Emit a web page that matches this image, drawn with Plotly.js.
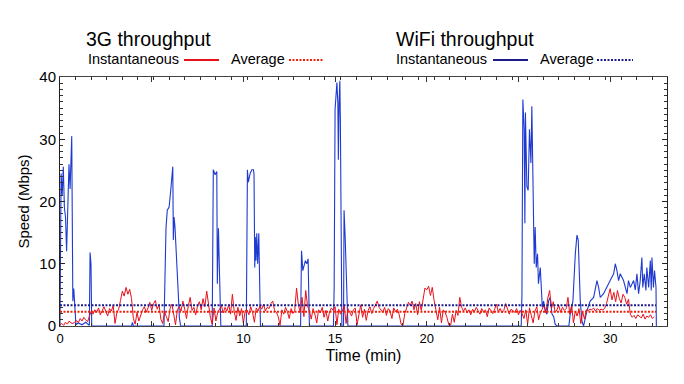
<!DOCTYPE html>
<html><head><meta charset="utf-8">
<script src="https://cdn.plot.ly/plotly-3.0.1.min.js"></script>
<style>body{margin:0;background:#fff}#chart{width:684px;height:384px}</style>
</head><body><div id="chart"></div>
<script>
// ---- data ----
const sampleStep3G = 0.1; // minutes between 3G samples
const g3Values = [
0.2,0.4,0.1,0.6,0.3,0.8,0.5,0.4,
0.6,0.9,0.5,1.2,0.8,1.4,1.0,0.7,
1.5,2.4,1.9,2.6,
2.2,2.9,1.8,2.5,3.1,2.3,1.6,2.8,2.4,3.3,
0.4,2.1,2.7,
4.1,5.6,4.8,6.2,5.1,5.9,4.4,
1.2,0.3,2.2,0.8,1.9,
2.6,3.1,2.2,2.9,3.8,2.5,3.6,4.1,2.7,3.4,
1.1,0.4,2.3,1.5,0.7,
2.8,3.5,1.9,0.2,2.6,
3.1,2.4,4.0,2.7,1.2,3.3,4.6,2.5,3.0,1.8,
3.2,3.9,2.6,4.4,3.1,5.6,3.6,
1.4,0.3,2.9,0.8,2.2,
2.7,3.3,2.1,3.0,2.4,3.4,1.9,5.1,
2.3,0.9,3.0,1.6,2.8,0.4,2.5,
2.6,1.8,3.1,2.2,0.6,2.9,2.4,
3.2,2.7,3.5,2.4,3.0,2.8,3.6,4.0,2.5,
2.2,1.5,0.1,2.6,1.9,3.0,2.3,1.2,2.8,2.0,2.5,
6.1,3.4,2.2,4.6,1.5,5.7,3.2,
2.4,1.1,2.8,1.9,0.5,2.6,2.1,3.0,1.4,2.5,0.8,2.3,2.9,
2.5,3.1,0.2,2.7,1.9,2.4,3.3,0.4,2.8,2.1,1.6,2.6,
2.9,0.2,2.2,3.4,1.4,2.7,0.9,2.5,3.1,2.0,2.8,
3.5,4.0,3.0,
2.6,2.2,3.0,1.7,2.8,2.4,1.2,2.9,2.3,2.7,1.8,0.3,0.1,2.0,
2.9,3.8,3.3,4.0,2.6,3.6,1.8,3.9,2.5,
4.5,6.1,5.8,6.4,4.9,6.2,4.1,
2.4,1.0,3.0,0.5,2.6,
2.2,1.4,0.2,0.1,1.9,0.6,2.5,1.7,
4.6,3.0,
2.4,2.9,2.1,2.6,1.8,2.7,2.3,3.0,2.5,1.9,2.8,2.2,2.6,1.5,2.9,2.4,2.0,2.7,3.5,2.3,2.8,2.1,2.5,3.6,2.6,1.9,2.7,2.4,
2.2,2.8,1.8,2.5,2.0,
1.2,2.6,0.3,2.9,1.7,0.5,2.4,3.1,1.0,2.2,2.7,
3.4,2.1,4.5,5.7,2.8,3.9,2.2,
2.6,3.3,2.2,3.0,2.5,2.8,
4.6,1.9,3.4,0.5,2.4,
1.6,2.8,0.4,2.3,1.1,2.6,
2.5,2.7,2.6,2.9,2.4,2.8,2.5,2.7,2.6,2.8,
3.6,4.8,6.0,4.2,5.4,3.9,5.7,4.4,3.7,5.1,4.6,3.5,4.3,
1.9,1.4,1.7,1.2,1.8,1.5,1.3,1.9,1.1,1.6,1.4,1.8,1.2,1.5
];
const wifiTimes = [
0.00,0.06,0.12,0.18,0.24,0.30,0.36,0.42,0.49,0.55,0.60,0.64,0.67,0.70,0.75,0.82,0.87,1.0,1.2,1.4,1.6,1.64,1.69,1.73,
3.9,3.95,4.0,
5.67,5.73,5.78,5.85,5.95,6.04,6.09,6.15,6.18,6.22,6.27,6.37,6.45,6.51,6.58,
8.30,8.36,8.46,8.55,8.58,8.64,8.69,8.73,8.77,
10.16,10.22,10.27,10.37,10.46,10.55,10.58,10.62,10.65,10.69,10.73,10.78,10.84,10.87,10.93,
13.12,13.17,13.24,13.31,13.38,13.46,13.53,13.57,13.60,
14.91,14.95,15.0,15.1,15.15,15.18,15.22,15.26,15.29,15.33,15.37,15.46,15.49,15.55,15.6,15.64,15.7,
25.15,25.19,25.24,25.31,25.35,25.38,25.46,25.53,25.6,25.68,25.73,25.79,25.82,25.86,25.91,25.97,26.04,26.09,26.19,26.24,26.3,26.37,26.46,26.55,26.64,26.73,26.83,26.92,27.0,27.1,
27.75,27.82,27.97,28.1,28.19,28.26,28.31,28.37,28.46,28.55,28.73,28.91,29.1,29.28,29.37,29.46,29.64,29.83,30.0,30.19,30.28,30.37,30.46,30.55,30.73,30.92,31.0,31.1,31.28,31.37,31.46,31.55,31.64,31.73,31.78,31.86,31.95,32.0,32.1,32.19,32.24,32.28,32.36,32.42,32.5,32.52
];
const wifiValues = [
0,24.5,21,25.6,19,17.5,12,19,26,22,26.7,30.5,17,4,6,2,0.2,0.5,0.2,0.6,0.1,11.8,10,0,
0,0.6,0,
0,13.3,15.7,18.6,19.1,21.8,23.2,25.6,13.8,17.5,15.9,11,5.2,1.3,0,
0,25.1,24.3,24.8,6.8,15.7,9.4,5.2,0,
0,25.1,23.1,24.5,25.1,25.1,24.4,9.4,14.3,10.5,14.9,10,14.9,8.9,0,
0,12.1,8.9,10,10.5,10,10.8,4.6,0,
0,6.2,34.8,39.1,35.9,26.7,35.9,39.4,32.6,14.3,0,0,18.6,14.3,8.9,4.6,0,
0,5,36.4,31.6,16.5,34.3,22.4,21.8,31.6,26.2,35.3,22.4,16.5,10,15.9,9.4,11.6,6.8,9.4,5.7,3,4,2.4,1.9,4,4.6,1.9,1.5,0.3,0,
0,1.9,4,11.6,14.6,13.8,8.4,4,0.8,0,2.4,4,4.6,7.3,6.2,4.6,5.2,6.2,7.3,8.4,10,8.9,7.3,8.4,7.3,5.2,7.3,6.2,7.3,5.8,8.4,5.2,7.3,11,6.2,8.4,5.7,9.4,6.2,10.5,5.7,11,6.2,8.9,6.2,0
];
const g3Average = 2.3;
const wifiAverage = 3.35;
const averageSpan = [0, 32.5];
const xTickVals = [0,5,10,15,20,25,30];
const yTickVals = [0,10,20,30,40];

const g3Times = g3Values.map((_, i) => +(i * sampleStep3G).toFixed(2));

const RED = '#e8101a', BLUE = '#1f3ad0', NAVY = '#1c1c8f', RED_AVG = '#f0200a';
const FONT = 'Liberation Sans, Arial, sans-serif';
const FINE_DOT = '2px,1.5px';

const traces = [
  {x: wifiTimes, y: wifiValues, type: 'scatter', mode: 'lines', line: {color: BLUE, width: 1.1}, hoverinfo: 'skip'},
  {x: g3Times, y: g3Values, type: 'scatter', mode: 'lines', line: {color: RED, width: 1}, hoverinfo: 'skip'},
  {x: averageSpan, y: [wifiAverage, wifiAverage], type: 'scatter', mode: 'lines', line: {color: NAVY, width: 2, dash: FINE_DOT}},
  {x: averageSpan, y: [g3Average, g3Average], type: 'scatter', mode: 'lines', line: {color: RED_AVG, width: 2, dash: FINE_DOT}}
];

function px2paper(px) { return (px - 60) / 607; }
function py2paper(py) { return (326 - py) / 249; }

const ann = (text, px, py, size) => ({
  text, x: px2paper(px), y: py2paper(py), xref: 'paper', yref: 'paper',
  xanchor: 'left', yanchor: 'middle', showarrow: false, borderpad: 0,
  font: {family: FONT, size, color: '#000'}
});
const seg = (x0, x1, py, color, dash) => ({
  type: 'line', xref: 'paper', yref: 'paper',
  x0: px2paper(x0), x1: px2paper(x1), y0: py2paper(py), y1: py2paper(py),
  line: {color, width: 2, dash: dash || 'solid'}
});

const layout = {
  width: 684, height: 384,
  margin: {l: 60, r: 17, t: 77, b: 58},
  paper_bgcolor: '#fff', plot_bgcolor: '#fff',
  showlegend: false,
  font: {family: FONT, color: '#000'},
  xaxis: {
    range: [0, 33.1], tickvals: xTickVals, ticktext: xTickVals.map(String),
    ticks: 'inside', ticklen: 5, tickcolor: '#333',
    minor: {dtick: 0.85, tick0: 0, ticks: 'inside', ticklen: 3, tickcolor: '#333'},
    showline: true, linecolor: '#444', linewidth: 1, mirror: 'ticks',
    showgrid: false, zeroline: false,
    tickfont: {size: 13, family: FONT},
    title: {text: 'Time (min)', font: {size: 16, family: FONT}, standoff: 5}
  },
  yaxis: {
    range: [0, 40], tickvals: yTickVals, ticktext: yTickVals.map(String),
    ticks: 'inside', ticklen: 5, tickcolor: '#222',
    minor: {dtick: 1, ticks: 'inside', ticklen: 3, tickcolor: '#333'},
    showline: true, linecolor: '#222', linewidth: 1, mirror: 'ticks',
    showgrid: false, zeroline: false,
    tickfont: {size: 15, family: FONT},
    title: {text: 'Speed (Mbps)', font: {size: 15, family: FONT}, standoff: 6}
  },
  annotations: [
    ann('3G throughput', 85, 38.5, 19.5),
    ann('Instantaneous', 87, 59, 14.5),
    ann('Average', 230, 59, 14.5),
    ann('WiFi throughput', 395, 38.5, 19.5),
    ann('Instantaneous', 395, 59, 14.5),
    ann('Average', 538.5, 59, 14.5)
  ],
  shapes: [
    seg(184, 219, 60, RED),
    seg(289, 324, 60, RED_AVG, FINE_DOT),
    seg(493, 528, 60, NAVY),
    seg(597, 633, 60, NAVY, FINE_DOT)
  ]
};

Plotly.newPlot('chart', traces, layout, {staticPlot: true, displayModeBar: false});
</script>
</body></html>
